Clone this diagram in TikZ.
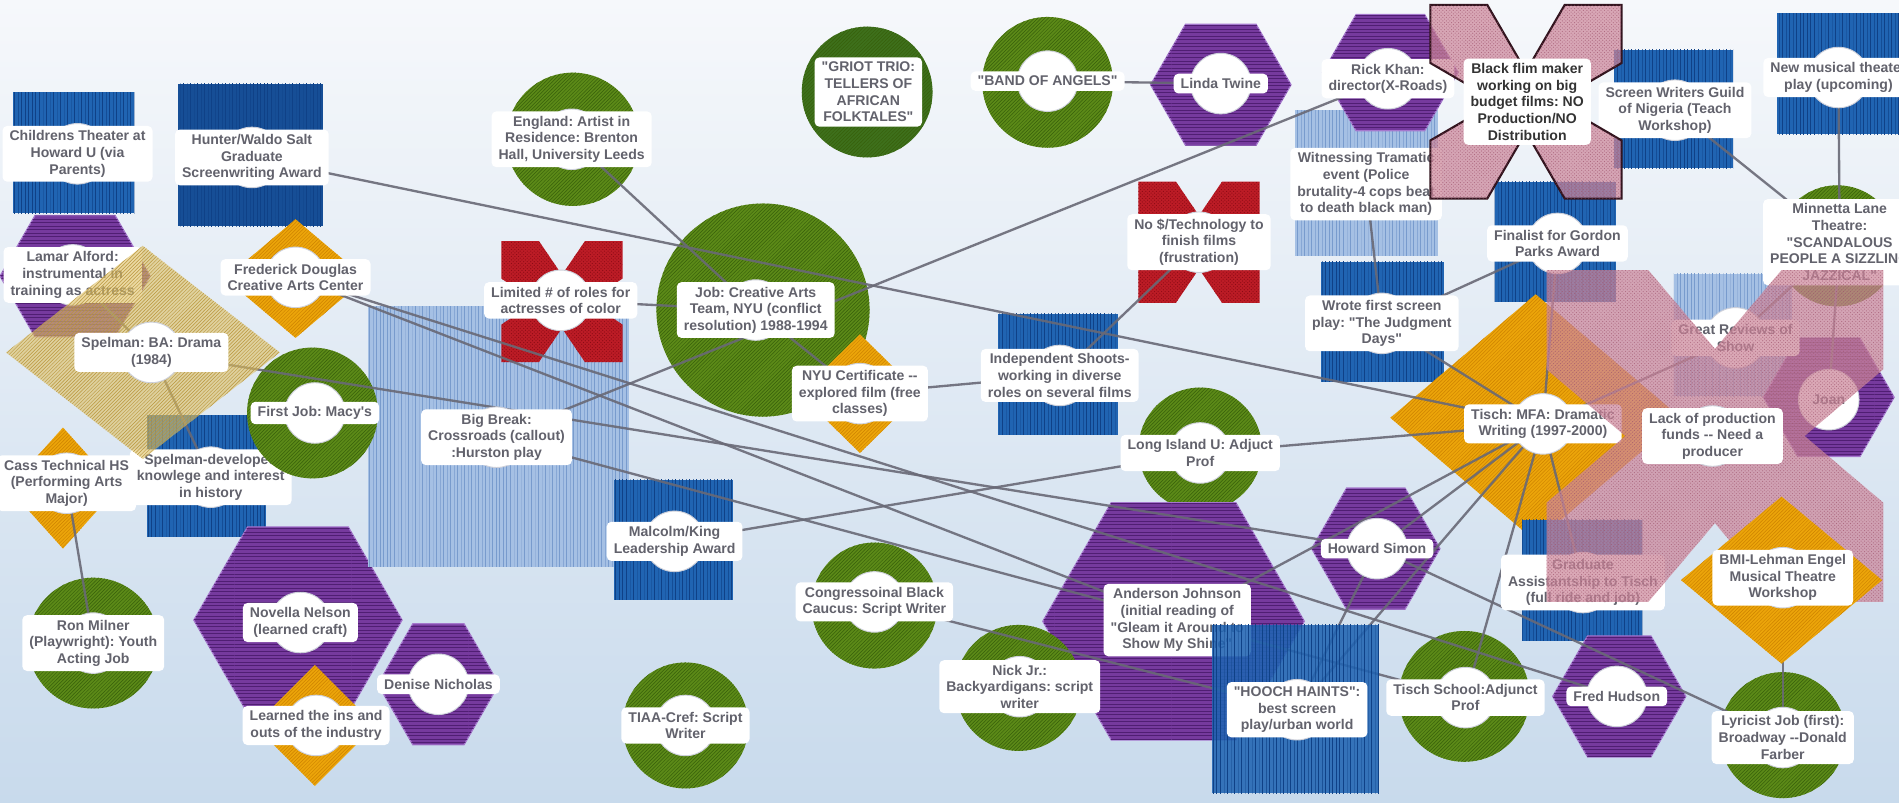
\documentclass[tikz,border=0pt]{standalone}
\usepackage{fontspec}
\setmainfont{Liberation Sans}[Ligatures=TeXOff]
\usepackage{tikz}
\usetikzlibrary{calc, patterns, shapes}
\tikzset{>=latex}
\definecolor{bgtop}{RGB}{246, 248, 251}
\definecolor{bgbot}{RGB}{200, 218, 236}
\definecolor{grn}{RGB}{92, 138, 24}
\definecolor{grnd}{RGB}{55, 95, 10}
\definecolor{grndark}{RGB}{62, 112, 28}
\definecolor{purp}{RGB}{118, 58, 158}
\definecolor{purpd}{RGB}{80, 30, 115}
\definecolor{purpl}{RGB}{165, 120, 205}
\definecolor{orng}{RGB}{236, 165, 10}
\definecolor{orngd}{RGB}{205, 130, 0}
\definecolor{blu}{RGB}{32, 100, 178}
\definecolor{blud}{RGB}{15, 65, 135}
\definecolor{bludark}{RGB}{22, 78, 150}
\definecolor{lblu}{RGB}{165, 192, 228}
\definecolor{lblud}{RGB}{120, 155, 205}
\definecolor{redx}{RGB}{188, 28, 38}
\definecolor{redxd}{RGB}{140, 10, 20}
\definecolor{pnk}{RGB}{205, 135, 155}
\definecolor{pnkd}{RGB}{160, 85, 110}
\definecolor{xborder}{RGB}{50, 20, 30}
\definecolor{khaki}{RGB}{222, 192, 100}
\definecolor{khakid}{RGB}{185, 150, 60}
\definecolor{txtgray}{RGB}{98, 98, 108}
\definecolor{linkgray}{RGB}{105, 105, 118}
\definecolor{discline}{RGB}{205, 208, 218}
\newcommand\lblfont{\fontsize{12}{14.2}\selectfont\bfseries}
% shape outlines: centre x, centre y, half width, half height (...)
\newcommand\hexpath[4]{(#1-#3,#2) -- (#1-#3+0.577*#4,#2-#4) -- (#1+#3-0.577*#4,#2-#4) -- (#1+#3,#2) -- (#1+#3-0.577*#4,#2+#4) -- (#1-#3+0.577*#4,#2+#4) -- cycle}
\newcommand\diampath[4]{(#1,#2-#4) -- (#1+#3,#2) -- (#1,#2+#4) -- (#1-#3,#2) -- cycle}
\newcommand\xpath[6]{(#1-#3,#2-#4) -- (#1-#5,#2-#4) -- (#1,#2-#4+#6) -- (#1+#5,#2-#4) -- (#1+#3,#2-#4) -- (#1+#3,#2-#5) -- (#1+#3-#6,#2) -- (#1+#3,#2+#5) -- (#1+#3,#2+#4) -- (#1+#5,#2+#4) -- (#1,#2+#4-#6) -- (#1-#5,#2+#4) -- (#1-#3,#2+#4) -- (#1-#3,#2+#5) -- (#1-#3+#6,#2) -- (#1-#3,#2-#5) -- cycle}
% white ring + label
\newcommand\lab[5][]{\path[disc] (#3,#4) circle (25); \node[lbl, #1] (#2) at (#3,#4) {#5};}
\pgfdeclarelayer{shapes}
\pgfdeclarelayer{links}
\pgfdeclarelayer{front}
\pgfsetlayers{shapes,links,main,front}
\tikzset{
  lbl/.style={fill=white, rounded corners=4pt, align=center, inner xsep=6pt, inner ysep=4pt, text=txtgray, font=\lblfont},
  disc/.style={fill=white, draw=discline, line width=0.8pt},
  link/.style={draw=linkgray, line width=2pt, draw opacity=0.9},
  circ/.style={fill=grn, postaction={pattern=north east lines, pattern color=grnd}},
  hexa/.style={fill=purp, draw=purpl, line width=1pt, postaction={pattern=horizontal lines, pattern color=purpd}},
  diam/.style={fill=orng, postaction={pattern=north east lines, pattern color=orngd}},
  bluebox/.style={fill=blu, postaction={pattern=vertical lines, pattern color=blud}},
  lightbox/.style={fill=lblu, postaction={pattern=vertical lines, pattern color=lblud}},
  redcross/.style={fill=redx, postaction={pattern=crosshatch dots, pattern color=redxd}},
  pinkcross/.style={fill=pnk, fill opacity=0.72, postaction={pattern=crosshatch dots, pattern color=pnkd}},
  khakidiam/.style={fill=khaki, fill opacity=0.6, postaction={pattern=north east lines, pattern color=khakid}}
}
\frenchspacing
\begin{document}
\begin{tikzpicture}[x=0.03633cm, y=-0.03633cm]
\useasboundingbox (0,0) rectangle (1568,663);

\begin{pgfonlayer}{shapes}
\fill[top color=bgtop, bottom color=bgbot] (0,0) rectangle (1568,663);

% left part
\fill[bluebox] (11,76) rectangle (111,176);
\fill[bluebox, fill=bludark] (147,69) rectangle (267,187);
\path[hexa] \hexpath{62}{228}{62}{50};
\path[diam] \diampath{244}{230}{58}{49};
\path[diam] \diampath{52}{403}{45}{50};
\fill[bluebox] (121,343) rectangle (220,443);
\path[circ] (77,531) circle (54);
\path[hexa] \hexpath{246}{512}{86}{77};
\path[hexa] \hexpath{362}{565}{50}{50};
\path[diam] \diampath{260}{599}{50}{50};

% middle
\fill[lightbox] (304,253) rectangle (519,468);
\path[redcross] \xpath{464}{249}{50}{50}{19}{28};
\path[circ] (473,115) circle (55);
\path[circ] (630,256) circle (88);
\path[diam] \diampath{710}{325}{50}{49};
\fill[bluebox] (507,396) rectangle (605,495);
\path[circ] (722,500) circle (52);
\path[circ] (566,599) circle (52);
\path[circ, fill=grndark] (716,76) circle (54);
\path[circ] (865,68) circle (54);
\path[hexa] \hexpath{1008}{70}{58}{50};
\fill[lightbox] (1069,91) rectangle (1187,211);
\path[hexa] \hexpath{1148}{60}{56}{48};
\path[redcross] \xpath{990}{200}{50}{50}{19}{28};
\fill[bluebox] (824,259) rectangle (923,359);
\path[circ] (991,371) circle (51);
\path[hexa] \hexpath{969}{513}{108}{98};
\path[circ] (841,568) circle (52);

% right part
\fill[bluebox] (1333,41) rectangle (1431,139);
\fill[bluebox] (1467,11) rectangle (1580,111);
\fill[bluebox] (1091,216) rectangle (1192,315);
\fill[bluebox] (1234,150) rectangle (1334,249);
\path[circ] (1517,203) circle (50);
\fill[lightbox] (1382,226) rectangle (1480,327);
\path[hexa] \hexpath{1510}{328}{54}{49};
\path[diam] \diampath{1268}{345}{120}{102};
\fill[bluebox] (1257,429) rectangle (1356,529);
\path[hexa] \hexpath{1136}{453}{53}{50};
\path[circ] (1209,575) circle (54);
\path[hexa] \hexpath{1337}{575}{55}{50};
\path[circ] (1472,607) circle (52);
\end{pgfonlayer}

% labels
\lab{childrens}{64}{127}{Childrens Theater at\\Howard U (via\\Parents)}
\lab{hunter}{208}{130}{Hunter/Waldo Salt\\Graduate\\Screenwriting Award}
\lab{lamar}{60}{227}{Lamar Alford:\\instrumental in\\training as actress}
\lab{fdouglas}{244}{229}{Frederick Douglas\\Creative Arts Center}
\lab{cass}{55}{399}{Cass Technical HS\\(Performing Arts\\Major)}
\lab{spelmandev}{174}{394}{Spelman-developed\\knowlege and interest\\in history}
\lab{ronmilner}{77}{531}{Ron Milner\\(Playwright): Youth\\Acting Job}
\lab{novella}{248}{514}{Novella Nelson\\(learned craft)}
\lab{learned}{261}{599}{Learned the ins and\\outs of the industry}
\lab{denise}{362}{565}{Denise Nicholas}
\lab{england}{472}{115}{England: Artist in\\Residence: Brenton\\Hall, University Leeds}
\lab{limited}{463}{248}{Limited \# of roles for\\actresses of color}
\lab{bigbreak}{410}{361}{Big Break:\\Crossroads (callout)\\:Hurston play}
\lab{jobnyu}{624}{256}{Job: Creative Arts\\Team, NYU (conflict\\resolution) 1988-1994}
\lab{nyucert}{710}{325}{NYU Certificate --\\explored film (free\\classes)}
\lab{malcolm}{557}{447}{Malcolm/King\\Leadership Award}
\lab{congress}{722}{497}{Congressoinal Black\\Caucus: Script Writer}
\lab{tiaa}{566}{599}{TIAA-Cref: Script\\Writer}
\lab{griot}{717}{76}{"GRIOT TRIO:\\TELLERS OF\\AFRICAN\\FOLKTALES"}
\lab{bandangels}{865}{67}{"BAND OF ANGELS"}
\lab{linda}{1008}{69}{Linda Twine}
\lab{witness}{1128}{152}{Witnessing Tramatic\\event (Police\\brutality-4 cops beat\\to death black man)}
\lab{rickkhan}{1146}{65}{Rick Khan:\\director(X-Roads)}
\lab{notech}{990}{200}{No \$/Technology to\\finish films\\(frustration)}
\lab{screenguild}{1383}{91}{Screen Writers Guild\\of Nigeria (Teach\\Workshop)}
\lab{newmusical}{1518}{64}{New musical theater\\play (upcoming)}
\lab{indep}{875}{310}{Independent Shoots-\\working in diverse\\roles on several films}
\lab{longisland}{991}{374}{Long Island U: Adjuct\\Prof}
\lab{anderson}{972}{512}{Anderson Johnson\\(initial reading of\\"Gleam it Around to\\Show My Shine"}
\lab{nickjr}{842}{567}{Nick Jr.:\\Backyardigans: script\\writer}
\lab{wrote}{1141}{267}{Wrote first screen\\play: "The Judgment\\Days"}
\lab{finalist}{1286}{201}{Finalist for Gordon\\Parks Award}
\lab{minnetta}{1519}{200}{Minnetta Lane\\Theatre:\\"SCANDALOUS\\PEOPLE A SIZZLING\\JAZZICAL"}
\lab{reviews}{1433}{279}{Great Reviews of\\Show}
\lab{joan}{1510}{330}{Joan}
\lab{tischmfa}{1274}{350}{Tisch: MFA: Dramatic\\Writing (1997-2000)}
\lab{graduate}{1307}{481}{Graduate\\Assistantship to Tisch\\(full ride and job)}
\lab{howard}{1137}{453}{Howard Simon}
\lab{tischschool}{1210}{576}{Tisch School:Adjunct\\Prof}
\lab{fred}{1335}{575}{Fred Hudson}
\lab{lyricist}{1472}{609}{Lyricist Job (first):\\Broadway --Donald\\Farber}

% see-through shapes on top
\begin{pgfonlayer}{front}
\path[khakidiam] \diampath{118}{291}{113}{88};
\lab{spelman}{125}{291}{Spelman: BA: Drama\\(1984)}
\path[circ] (258,341) circle (54);
\begin{scope}
\clip (258,341) circle (54);
\draw[link] (spelman.center) -- (howard.center);
\end{scope}
\lab{macys}{260}{341}{First Job: Macy's}
\fill[bluebox, fill opacity=0.88] (1001,516) rectangle (1139,655);
\lab{hooch}{1071}{586}{"HOOCH HAINTS":\\best screen\\play/urban world}
\path[pinkcross, draw=xborder, line width=1.8pt] \xpath{1260}{84}{79}{80}{32}{55};
\lab[text=black!80]{blackfilm}{1261}{84}{Black flim maker\\working on big\\budget films: NO\\Production/NO\\Distribution}
\path[pinkcross] \xpath{1416}{360}{139}{137}{55}{65};
\lab{lack}{1414}{360}{Lack of production\\funds -- Need a\\producer}
\path[diam] \diampath{1471}{479}{83}{69};
\lab{bmi}{1472}{477}{BMI-Lehman Engel\\Musical Theatre\\Workshop}
\end{pgfonlayer}

% connectors
\begin{pgfonlayer}{links}
\foreach \a/\b in {lamar/spelman, spelman/spelmandev, cass/ronmilner, spelman/howard,
  fdouglas/fred, fdouglas/anderson, hunter/tischmfa, england/jobnyu, limited/jobnyu,
  bigbreak/rickkhan, bigbreak/tischschool, nyucert/indep, indep/notech,
  malcolm/longisland, longisland/tischmfa, congress/hooch, linda/bandangels,
  witness/wrote, wrote/finalist, wrote/tischmfa, tischmfa/finalist, tischmfa/reviews,
  reviews/minnetta, minnetta/newmusical, minnetta/screenguild, minnetta/joan,
  tischmfa/howard, tischmfa/tischschool, tischmfa/graduate, tischmfa/hooch,
  tischmfa/anderson, howard/hooch, howard/lyricist, bmi/lyricist, jobnyu/nyucert}
  \draw[link] (\a.center) -- (\b.center);
\end{pgfonlayer}
\end{tikzpicture}
\end{document}
